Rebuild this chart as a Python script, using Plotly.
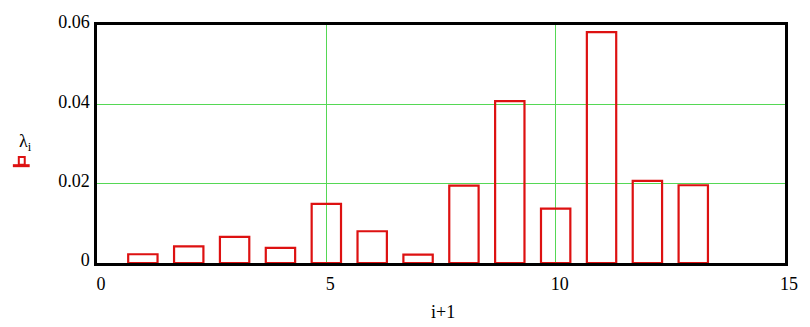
import plotly.graph_objects as go

# Data
x_vals = [1, 2, 3, 4, 5, 6, 7, 8, 9, 10, 11, 12, 13]
lam = [0.0022, 0.0042, 0.0066, 0.0038, 0.0149, 0.0080, 0.0021,
       0.0195, 0.0408, 0.0137, 0.0582, 0.0207, 0.0196]
x_ticks = [0, 5, 10, 15]
x_ticktext = ["0", "5", "10", "15"]
y_ticks = [0, 0.02, 0.04, 0.06]
y_ticktext = ["0", "0.02", "0.04", "0.06"]

W, H = 810, 327
L, R, T, B = 97, 18, 16, 64
PW, PH = W - L - R, H - T - B

def px(xp):
    return (xp - L) / PW

def py(yp):
    return (H - B - yp) / PH

RED = "#dd1111"
GREEN = "#55d855"
FONT = "Times New Roman, Liberation Serif, DejaVu Serif, serif"

fig = go.Figure()
fig.add_trace(go.Bar(
    x=x_vals, y=lam, width=0.64,
    marker=dict(color="rgba(0,0,0,0)", line=dict(color=RED, width=2.2)),
    showlegend=False, hoverinfo="x+y",
))

fig.update_layout(
    width=W, height=H,
    margin=dict(l=L, r=R, t=T, b=B),
    paper_bgcolor="white", plot_bgcolor="white",
    font=dict(family=FONT, size=18, color="black"),
    xaxis=dict(range=[0, 15], tickvals=x_ticks, ticktext=x_ticktext,
               showgrid=True, gridcolor=GREEN, gridwidth=1,
               showline=True, linecolor="black", linewidth=2.5, mirror=True,
               zeroline=False, ticks="", ticklabelshift=4, ticklabelstandoff=3,
               tickfont=dict(family=FONT, size=18),
               fixedrange=True),
    yaxis=dict(range=[0, 0.06], tickvals=y_ticks, ticktext=y_ticktext,
               showgrid=True, gridcolor=GREEN, gridwidth=1,
               showline=True, linecolor="black", linewidth=2.5, mirror=True,
               zeroline=False, ticks="", ticklabelshift=-3, ticklabelstandoff=1,
               tickfont=dict(family=FONT, size=18),
               fixedrange=True),
    annotations=[
        dict(text="i+1", xref="paper", yref="paper", x=px(447), y=py(314),
             showarrow=False, xanchor="center", yanchor="middle",
             font=dict(family=FONT, size=18)),
        dict(text="λ<sub>i</sub>", xref="paper", yref="paper", x=px(25), y=py(138),
             showarrow=False, xanchor="center", yanchor="middle",
             font=dict(family=FONT, size=18)),
    ],
    shapes=[
        dict(type="rect", xref="paper", yref="paper",
             x0=px(18), x1=px(24), y0=py(161), y1=py(153),
             line=dict(color=RED, width=2), fillcolor="rgba(0,0,0,0)"),
        dict(type="line", xref="paper", yref="paper",
             x0=px(12), x1=px(29), y0=py(162), y1=py(162),
             line=dict(color=RED, width=3)),
    ],
)

fig.write_html("out.html", config={"displayModeBar": False})
